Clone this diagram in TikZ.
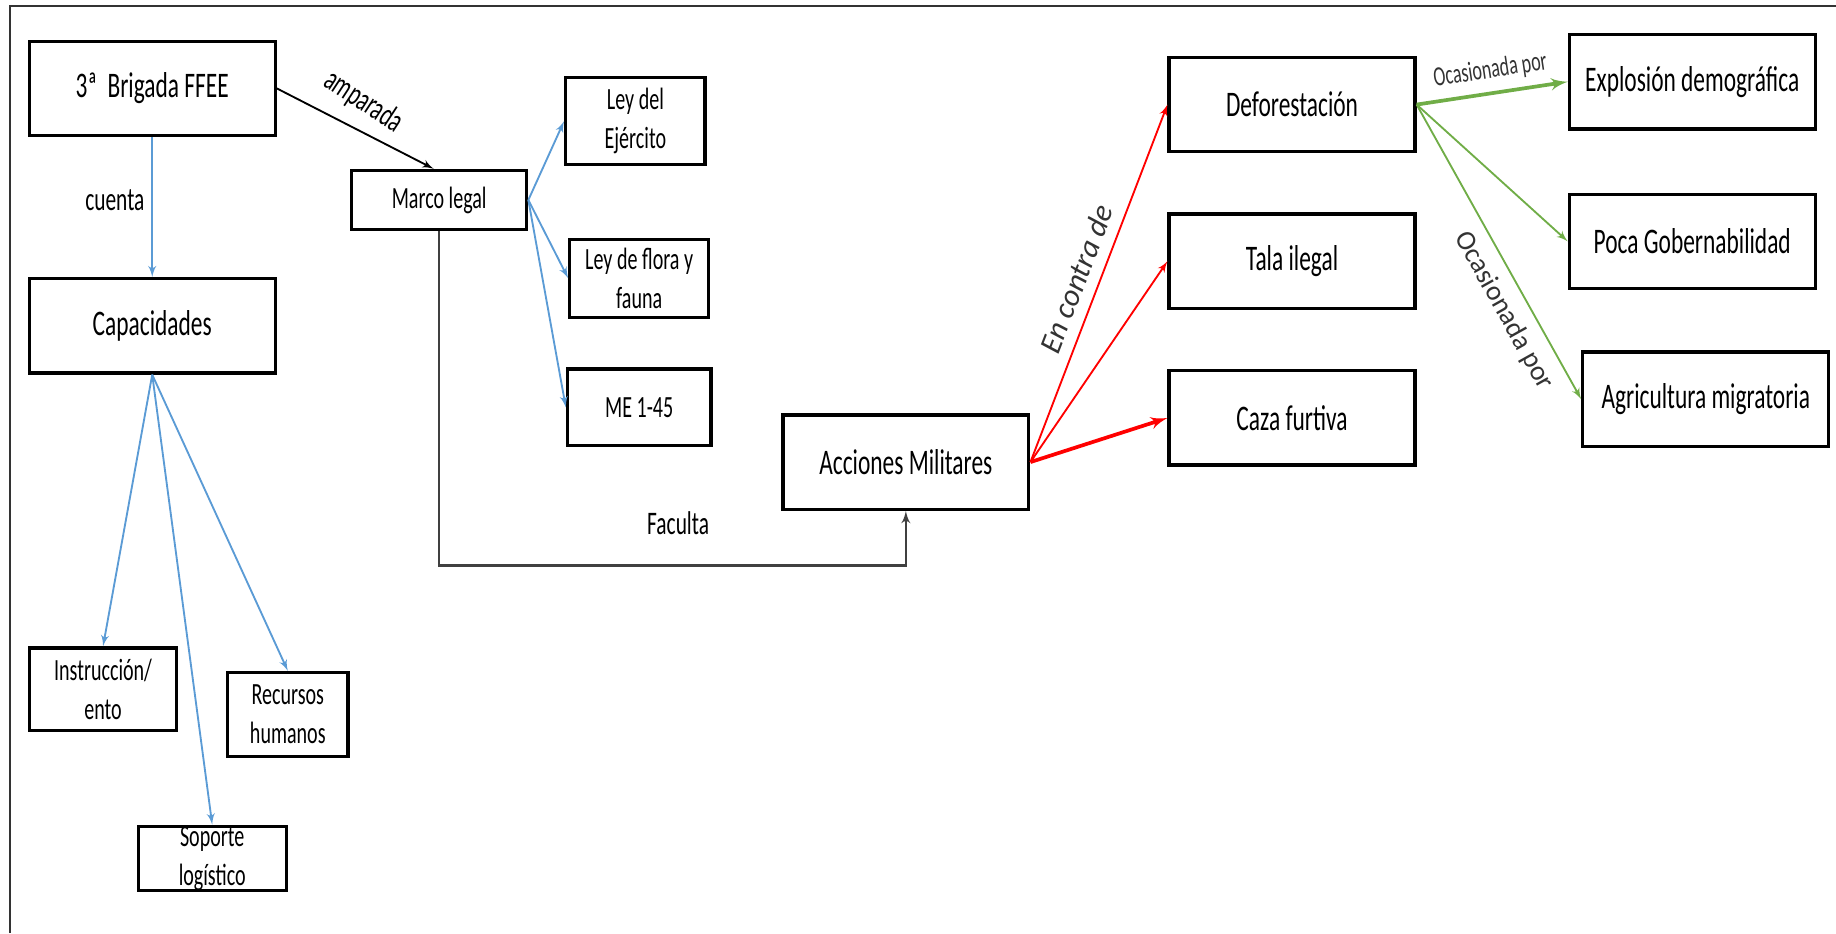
\documentclass[tikz,border=0pt]{standalone}
\usepackage{fontspec}
\setmainfont{Carlito}[FakeStretch=0.65]
\newfontfamily\rotada{Carlito}
\usepackage{tikz}
\usetikzlibrary{arrows,positioning}
\definecolor{azul}{RGB}{91,155,213}
\definecolor{rojo}{RGB}{255,0,0}
\definecolor{verde}{RGB}{112,173,71}
\newcommand{\letragrande}{\fontsize{17.5}{21}\selectfont}
\newcommand{\letramedia}{\fontsize{16}{19}\selectfont}
\newcommand{\letrachica}{\fontsize{15}{18.8}\selectfont}
\newcommand{\letraocas}{\fontsize{13.5}{16}\selectfont}
\newcommand{\letrarot}{\rotada\fontsize{13.5}{16}\selectfont}
\newcommand{\letracontra}{\rotada\itshape\fontsize{15}{18}\selectfont}
\tikzstyle{caja}=[rectangle,draw=black,line width=1.6pt,inner sep=0pt,align=center]
\tikzstyle{grande}=[caja,minimum width=4.2cm,minimum height=1.61cm,font=\letragrande]
\tikzstyle{chica}=[caja,font=\letrachica]
\tikzstyle{flecha}=[->,>=latex',line width=0.9pt]

\begin{document}
\begin{tikzpicture}
    \useasboundingbox (0,0) rectangle (31.36,-15.94);
    \draw[line width=1.2pt,black!80] (0.17,-15.94) -- (0.17,-0.1) -- (31.36,-0.1);

    % Nodos
    \node[grande] (brigada) at (2.6,-1.51) {3ª~~Brigada FFEE};
    \node[grande] (capacidades) [below=2.39 of brigada] {Capacidades};
    \node[chica, minimum width=2.99cm, minimum height=1.01cm] (marco) [below right=0.54 and 1.25 of brigada] {Marco legal};
    \node[chica, minimum width=2.38cm, minimum height=1.49cm] (leyejercito) [above right=0.04 and 0.61 of marco] {Ley del\\Ejército};
    \node[chica, minimum width=2.37cm, minimum height=1.33cm] (leyflora) [below right=0.11 and 0.68 of marco] {Ley de flora y\\fauna};
    \node[chica, minimum width=2.45cm, minimum height=1.31cm] (me) [below=0.83 of leyflora] {ME 1-45};
    \node[chica, minimum width=2.52cm, minimum height=1.41cm] (instruccion) [below=4.64 of capacidades.south west, anchor=north west] {Instrucción/\\ento};
    \node[chica, minimum width=2.06cm, minimum height=1.43cm] (recursos) [below right=0.42 and 0.81 of instruccion.north east] {Recursos\\humanos};
    \node[chica, minimum width=2.53cm, minimum height=1.07cm] (soporte) [below right=1.58 and 1.86 of instruccion.south west] {Soporte\\logístico};
    \node[grande] (acciones) [below right=3.11 and 4.32 of marco] {Acciones Militares};
    \node[grande] (deforestacion) [above right=4.44 and 2.34 of acciones] {Deforestación};
    \node[grande] (tala) [below=1.01 of deforestacion] {Tala ilegal};
    \node[grande] (caza) [below=1.01 of tala] {Caza furtiva};
    \node[grande] (explosion) [above right=0.39 and 2.58 of deforestacion.south east] {Explosión demográfica};
    \node[grande] (poca) [below=1.06 of explosion] {Poca Gobernabilidad};
    \node[grande] (agricultura) [below right=1.03 and 0.23 of poca.south west] {Agricultura migratoria};

    % Relaciones
    \draw [flecha,azul] (brigada) to node[left, pos=0.45, text=black, font=\letramedia] {cuenta} (capacidades);
    \draw [flecha] (brigada.east) to node[pos=0.46, sloped, above=0.1cm, rotate=-6, font=\letramedia] {amparada} (marco.100);
    \draw [flecha,azul] (marco.east) -- (leyejercito.west);
    \draw [flecha,azul] (marco.east) -- (leyflora.west);
    \draw [flecha,azul] (marco.east) -- (me.west);
    \draw [flecha,azul] (capacidades.south) -- (instruccion.north);
    \draw [flecha,azul] (capacidades.south) -- (soporte.north);
    \draw [flecha,azul] (capacidades.south) -- (recursos.north);
    \draw [flecha,black!75,line width=1.1pt] (marco.south) -- ++(0,-5.71) -| node[pos=0.256, yshift=0.73cm, text=black, font=\letramedia] {Faculta} (acciones.south);

    \draw [flecha,rojo] (acciones.east) -- node[pos=0.49, sloped, above=2pt, text=black!80, font=\letracontra] {En contra de} (deforestacion.west);
    \draw [flecha,rojo] (acciones.east) -- (tala.west);
    \draw [flecha,rojo,line width=1.8pt] (acciones.east) -- (caza.west);

    \draw [flecha,verde,line width=1.8pt] (deforestacion.east) -- node[pos=0.51, sloped, above=1pt, text=black!80, font=\letraocas] {Ocasionada por} (explosion.west);
    \draw [flecha,verde] (deforestacion.east) -- (poca.west);
    \draw [flecha,verde] (deforestacion.east) -- node[pos=0.66, sloped, below=0.08cm, text=black!80, font=\letrarot] {Ocasionada por} (agricultura.west);

\end{tikzpicture}
\end{document}
